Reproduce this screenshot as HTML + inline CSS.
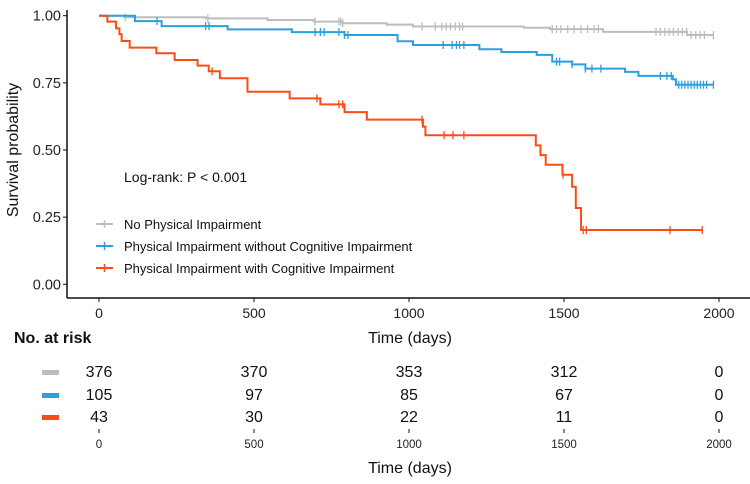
<!DOCTYPE html>
<html><head><meta charset="utf-8"><style>
body{margin:0;background:#fff;width:750px;height:479px;overflow:hidden;font-family:"Liberation Sans",sans-serif}
svg text{font-family:"Liberation Sans",sans-serif}
</style></head><body>
<svg id="chart" width="750" height="479" xmlns="http://www.w3.org/2000/svg">
<g id="axes"></g>
<g id="curves"></g>
<text x="124" y="182" font-size="14" fill="#111">Log-rank: P &lt; 0.001</text>
<g>
<g><line x1="96" y1="224" x2="113" y2="224" stroke="#bdbdbd" stroke-width="2"/><line x1="104.5" y1="220" x2="104.5" y2="228" stroke="#bdbdbd" stroke-width="1.5"/><text x="124" y="229" font-size="13" fill="#111">No Physical Impairment</text></g>
<g><line x1="96" y1="246" x2="113" y2="246" stroke="#2b9fe0" stroke-width="2"/><line x1="104.5" y1="242" x2="104.5" y2="250" stroke="#2b9fe0" stroke-width="1.5"/><text x="124" y="251" font-size="13" fill="#111">Physical Impairment without Cognitive Impairment</text></g>
<g><line x1="96" y1="268" x2="113" y2="268" stroke="#fc4b14" stroke-width="2"/><line x1="104.5" y1="264" x2="104.5" y2="272" stroke="#fc4b14" stroke-width="1.5"/><text x="124" y="273" font-size="13" fill="#111">Physical Impairment with Cognitive Impairment</text></g>
</g>
<text transform="translate(18,150) rotate(-90)" text-anchor="middle" font-size="16" fill="#111">Survival probability</text>
<text x="410" y="343" text-anchor="middle" font-size="16" fill="#111">Time (days)</text>
<text x="14" y="343" font-size="16" font-weight="bold" fill="#111">No. at risk</text>
<g id="risk"></g>
<text x="410" y="473" text-anchor="middle" font-size="16" fill="#111">Time (days)</text>
</svg>
<script>
const xTicks=[0,500,1000,1500,2000];
const yTicks=[0,0.25,0.5,0.75,1];
const yTickLabels=["0.00","0.25","0.50","0.75","1.00"];
const grayT=[0,81,344,544,693,786,928,1013,1370,1455,1626,1897,1982];
const grayS=[1,0.994,0.990,0.984,0.978,0.972,0.967,0.960,0.955,0.950,0.940,0.928,0.928];
const grayC=[85,351,697,774,780,786,1042,1085,1106,1120,1134,1149,1163,1173,1462,1476,1490,1512,1533,1555,1576,1597,1611,1797,1811,1825,1839,1853,1868,1882,1896,1910,1925,1939,1953,1982];
const blueT=[0,116,202,415,622,792,963,1013,1227,1298,1412,1462,1526,1569,1697,1740,1851,1861,1982];
const blueS=[1,0.980,0.961,0.949,0.939,0.928,0.905,0.891,0.875,0.865,0.854,0.829,0.819,0.803,0.791,0.776,0.763,0.743,0.743];
const blueC=[187,344,355,697,714,726,774,792,803,1110,1139,1153,1163,1177,1476,1486,1526,1569,1590,1619,1811,1832,1846,1870,1880,1890,1900,1910,1920,1930,1940,1950,1960,1982];
const redT=[0,27,55,66,73,99,185,244,318,354,390,479,615,714,792,864,1045,1053,1409,1424,1441,1495,1526,1538,1555,1946];
const redS=[1,0.978,0.953,0.931,0.906,0.881,0.860,0.835,0.814,0.793,0.767,0.717,0.692,0.670,0.641,0.613,0.587,0.555,0.517,0.481,0.445,0.408,0.363,0.284,0.202,0.202];
const redC=[365,703,774,786,1042,1113,1142,1177,1497,1562,1572,1842,1946];
const riskGray=[376,370,353,312,0];
const riskBlue=[105,97,85,67,0];
const riskRed=[43,30,22,11,0];
const NS="http://www.w3.org/2000/svg";
const X=t=>99+t*0.31;
const Y=s=>284.3-s*268.6;
function mk(tag,attrs,parent){const e=document.createElementNS(NS,tag);for(const k in attrs)e.setAttribute(k,attrs[k]);parent.appendChild(e);return e;}
const axes=document.getElementById('axes');
let e=mk('line',{x1:67,y1:10,x2:67,y2:298,stroke:'#111','stroke-width':1.5},axes);


e=mk('line',{x1:67,y1:298,x2:750,y2:298,stroke:'#111','stroke-width':1.5},axes);


yTicks.forEach((v,i)=>{
  mk('line',{x1:63,x2:67,y1:Y(v),y2:Y(v),stroke:'#111'},axes);
  const t=mk('text',{x:61,y:Y(v)+5,'text-anchor':'end','font-size':14.5,fill:'#222'},axes);
  t.textContent=yTickLabels[i];
  
  
});
xTicks.forEach(v=>{
  mk('line',{x1:X(v),x2:X(v),y1:298,y2:302,stroke:'#111'},axes);
  const t=mk('text',{x:X(v),y:318,'text-anchor':'middle','font-size':14,fill:'#222'},axes);
  t.textContent=v;
  
  
  mk('line',{x1:X(v),x2:X(v),y1:429,y2:433,stroke:'#111'},axes);
  const t2=mk('text',{x:X(v),y:448,'text-anchor':'middle','font-size':11.5,fill:'#222'},axes);
  t2.textContent=v;
  
  
});
const curves=document.getElementById('curves');
function curve(T,S,C,color,name){
  let d='M'+X(T[0])+','+Y(S[0]);
  for(let i=1;i<T.length;i++){d+='H'+X(T[i])+'V'+Y(S[i]);}
  const p=mk('path',{d:d,fill:'none',stroke:color,'stroke-width':2},curves);
  
  
  C.forEach(c=>{
    let s=S[0];for(let i=0;i<T.length;i++){if(T[i]<=c)s=S[i];}
    const m=mk('line',{x1:X(c),x2:X(c),y1:Y(s)-4,y2:Y(s)+4,stroke:color,'stroke-width':1.3},curves);
    
    
  });
}
curve(grayT,grayS,grayC,'#bdbdbd','no-impairment');
curve(blueT,blueS,blueC,'#2b9fe0','physical-impairment');
curve(redT,redS,redC,'#fc4b14','cognitive-impairment');
const risk=document.getElementById('risk');
[[riskGray,'#bdbdbd',377,'risk-row-none'],[riskBlue,'#2b9fe0',400,'risk-row-physical'],[riskRed,'#fc4b14',422,'risk-row-cognitive']].forEach(([arr,col,y,name])=>{
  const r=mk('rect',{x:42,y:y-7,width:17,height:5,fill:col},risk);
  
  
  arr.forEach((v,i)=>{
    const t=mk('text',{x:X(xTicks[i]),y:y,'text-anchor':'middle','font-size':16,fill:'#111'},risk);
    t.textContent=v;
    
    
  });
});
</script>
</body></html>
